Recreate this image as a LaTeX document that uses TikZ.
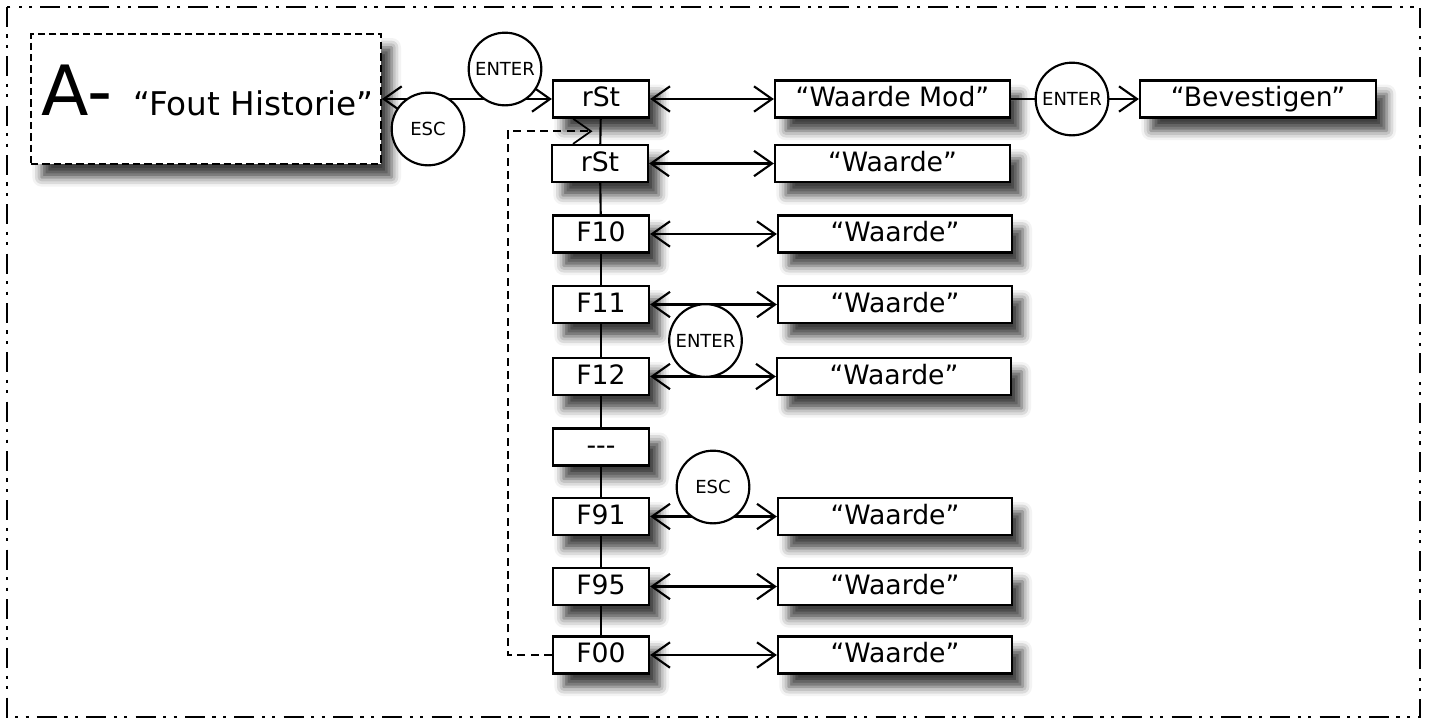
\documentclass[tikz,border=0pt]{standalone}
\usepackage{fontspec}
\setmainfont{DejaVu Sans}
\usetikzlibrary{arrows.meta,shadows.blur,calc}
\begin{document}
\begin{tikzpicture}[x=0.75pt,y=-0.75pt,
  shad/.style={blur shadow={shadow xshift=8pt,shadow yshift=-10pt,shadow blur radius=7pt,shadow opacity=75}},
  box/.style={draw,line width=1.7pt,fill=white,inner sep=0pt,minimum height=27.75pt,
              text height=14.6pt,text depth=3pt,font=\fontsize{20}{24}\selectfont,shad},
  lbox/.style={box,minimum width=72pt},
  rbox/.style={box,minimum width=175.5pt},
  key/.style={circle,draw,line width=1.6pt,fill=white,inner sep=0pt,minimum size=54.5pt,font=\fontsize{13.5}{16}\selectfont},
  link/.style={line width=1.6pt},
  barb/.tip={Straight Barb[length=13.5pt,width=19pt]},
  dbl/.style={link,barb-barb},
  sgl/.style={link,-barb},
  frame/.style={line width=1.9pt,dash pattern=on 15pt off 5.6pt on 2.3pt off 5.6pt on 2.3pt off 6.2pt}
]
\useasboundingbox (0,0) rectangle (1429,722);
% outer frame
\draw[frame] (7,7) rectangle (1420,717);

% A box
\node[draw,line width=1.3pt,dash pattern=on 5.5pt off 3pt,fill=white,inner sep=0pt,
      minimum width=262.5pt,minimum height=97.5pt,shad] (abox) at (206,99) {};
\node[anchor=base west,inner sep=0pt,font=\fontsize{52}{52}\selectfont] (atitle) at (41,115) {A-};
\node[anchor=base west,inner sep=0pt,font=\fontsize{24.5}{28}\selectfont] (aname) at (133,115) {“Fout Historie”};

% left column
\node[lbox] (r1)  at (601,99)    {rSt};
\node[lbox] (r2)  at (600,163.5) {rSt};
\node[lbox] (f10) at (601,234)   {F10};
\node[lbox] (f11) at (601,304.5) {F11};
\node[lbox] (f12) at (601,376.5) {F12};
\node[lbox] (fd)  at (601,447)   {-\kern0pt-\kern0pt-};
\node[lbox] (f91) at (601,516.5) {F91};
\node[lbox] (f95) at (601,586.5) {F95};
\node[lbox] (f00) at (601,655)   {F00};

% right column
\node[rbox,minimum width=176.25pt] (wm)  at (892.5,99)    {“Waarde Mod”};
\node[rbox,minimum width=176.25pt] (w2)  at (892.5,163.5) {“Waarde”};
\node[rbox] (w10) at (895,234)   {“Waarde”};
\node[rbox] (w11) at (895,304.5) {“Waarde”};
\node[rbox] (w12) at (894,376.5) {“Waarde”};
\node[rbox] (w91) at (895,516.5) {“Waarde”};
\node[rbox] (w95) at (895,586.5) {“Waarde”};
\node[rbox] (w00) at (895,655)   {“Waarde”};
\node[box,minimum width=177pt] (bev) at (1258,99) {“Bevestigen”};

% vertical chain
\foreach \a/\b in {r1/r2,r2/f10,f10/f11,f11/f12,f12/fd,fd/f91,f91/f95,f95/f00}
  \draw[link] (\a) -- (\b);

% dashed loop back
\coordinate (dtip) at ($(r1.south)!0.5!(r2.north)+(-8,0)$);
\draw[link,line width=1.3pt,dash pattern=on 6pt off 4pt,-barb] (f00.west) -- ++(-44,0) |- (dtip);

% horizontal connectors
\draw[dbl] (abox.east) -- (r1.west);
\draw[dbl] (r1) -- (wm);
\foreach \a/\b in {r2/w2,f10/w10,f11/w11,f12/w12,f91/w91,f95/w95,f00/w00}
  \draw[dbl] (\a) -- (\b);

% key circles
\node[key] (k1) at (505,69)    {ENTER};
\node[key] (k2) at (428,129)   {ESC};
\node[key] (k3) at (1072,99)   {ENTER};
\node[key] (k4) at (705.5,340.5) {ENTER};
\node[key] (k5) at (713,487)   {ESC};

\draw[link] (wm) -- (k3);
\draw[sgl] (k3) -- (bev);
\end{tikzpicture}
\end{document}
